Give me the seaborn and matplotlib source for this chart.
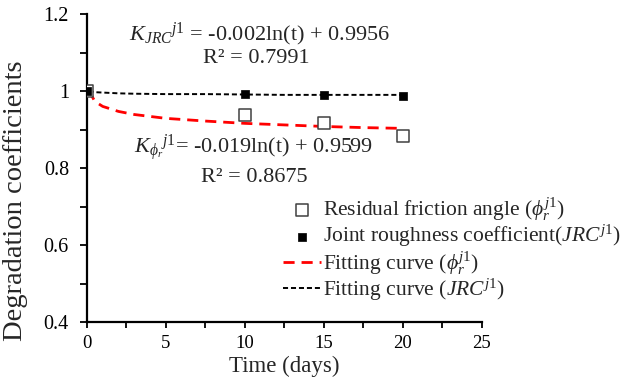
import matplotlib
matplotlib.use('Agg')
import numpy as np
import pandas as pd
import seaborn as sns
from matplotlib import pyplot as plt

# measured points
days = [0, 10, 15, 20]
friction = [1.0, 0.938, 0.917, 0.883]
jrc = [1.0, 0.992, 0.990, 0.986]

# fitted curves
fit_days = [0.1, 0.5, 1, 2, 3, 5, 7.5, 10, 12.5, 15, 17.5, 20]
fit_friction = [1.003, 0.973, 0.960, 0.947, 0.939, 0.929, 0.922, 0.916, 0.912, 0.908, 0.905, 0.903]
fit_jrc = [1.000, 0.997, 0.996, 0.994, 0.993, 0.992, 0.992, 0.991, 0.990, 0.990, 0.990, 0.990]

sns.set_style('white')
plt.rcParams['font.family'] = ['Liberation Serif', 'DejaVu Serif']
plt.rcParams['mathtext.fontset'] = 'custom'
plt.rcParams['mathtext.rm'] = 'Liberation Serif'
plt.rcParams['mathtext.it'] = 'Liberation Serif:italic'
plt.rcParams['mathtext.bf'] = 'Liberation Serif:bold'

fig = plt.figure(figsize=(6.3, 3.89), dpi=100)
ax = fig.add_axes([0.138, 0.172, 0.627, 0.792])

sns.scatterplot(x=days, y=friction, ax=ax, marker='s', s=70, facecolor='white',
                edgecolor='#404040', linewidth=1.1, zorder=4,
                label=r'Residual friction angle ($\phi_r^{\mathit{j1}}$)')
sns.scatterplot(x=days, y=jrc, ax=ax, marker='s', s=40, color='black',
                edgecolor='black', zorder=5,
                label=r'Joint roughness coefficient($JRC^{\mathit{j1}}$)')
sns.lineplot(x=fit_days, y=fit_friction, ax=ax, color='red', linewidth=2,
             linestyle=(0, (4, 2.5)), zorder=3,
             label=r'Fitting curve ($\phi_r^{\mathit{j1}}$)')
sns.lineplot(x=fit_days, y=fit_jrc, ax=ax, color='black', linewidth=1.4,
             linestyle=(0, (2.6, 1.5)), zorder=3,
             label=r'Fitting curve ($JRC^{\mathit{j1}}$)')

ax.set_xlim(0, 25)
ax.set_ylim(0.4, 1.2)
ax.set_xticks([0, 5, 10, 15, 20, 25])
ax.set_xticks(np.arange(0, 25.1, 2.5), minor=True)
ax.set_yticks([0.4, 0.6, 0.8, 1.0, 1.2])
ax.set_yticklabels(['0.4', '0.6', '0.8', '1', '1.2'])
ax.set_yticks(np.arange(0.4, 1.21, 0.1), minor=True)
ax.tick_params(which='both', direction='out', width=1.3, colors='black',
               bottom=True, left=True)
ax.tick_params(axis='x', which='both', length=4)
ax.tick_params(axis='y', which='both', length=5)
ax.tick_params(axis='x', labelsize=13.5, pad=5)
ax.tick_params(axis='y', labelsize=14.5, pad=8)
for side in ['top', 'right']:
    ax.spines[side].set_visible(False)
for side in ['left', 'bottom']:
    ax.spines[side].set_linewidth(1.6)
    ax.spines[side].set_color('black')

ax.set_xlabel('Time (days)', fontsize=16.5)
ax.set_ylabel('Degradation coefficients', fontsize=20.5)
ax.xaxis.set_label_coords(0.5, -0.11)
ax.yaxis.set_label_coords(-0.149, 0.393)

ax.text(10.9, 1.132, r'$K_{JRC}{}^{\mathit{j1}}$ = -0.002ln(t) + 0.9956', fontsize=16,
        ha='center', va='baseline')
ax.text(10.7, 1.073, 'R² = 0.7991', fontsize=16, ha='center', va='baseline')
ax.text(10.57, 0.839, r'$K_{\phi_r}{}^{\mathit{j1}}$= -0.019ln(t) + 0.9599', fontsize=16,
        ha='center', va='baseline')
ax.text(10.57, 0.763, 'R² = 0.8675', fontsize=16, ha='center', va='baseline')

ax.legend(loc='upper left', bbox_to_anchor=(0.496, 0.41), frameon=False, fontsize=15.5,
          handlelength=1.75, handletextpad=0.1, labelspacing=0.0, borderaxespad=0,
          borderpad=0)

fig.savefig('out.png', dpi=100)
